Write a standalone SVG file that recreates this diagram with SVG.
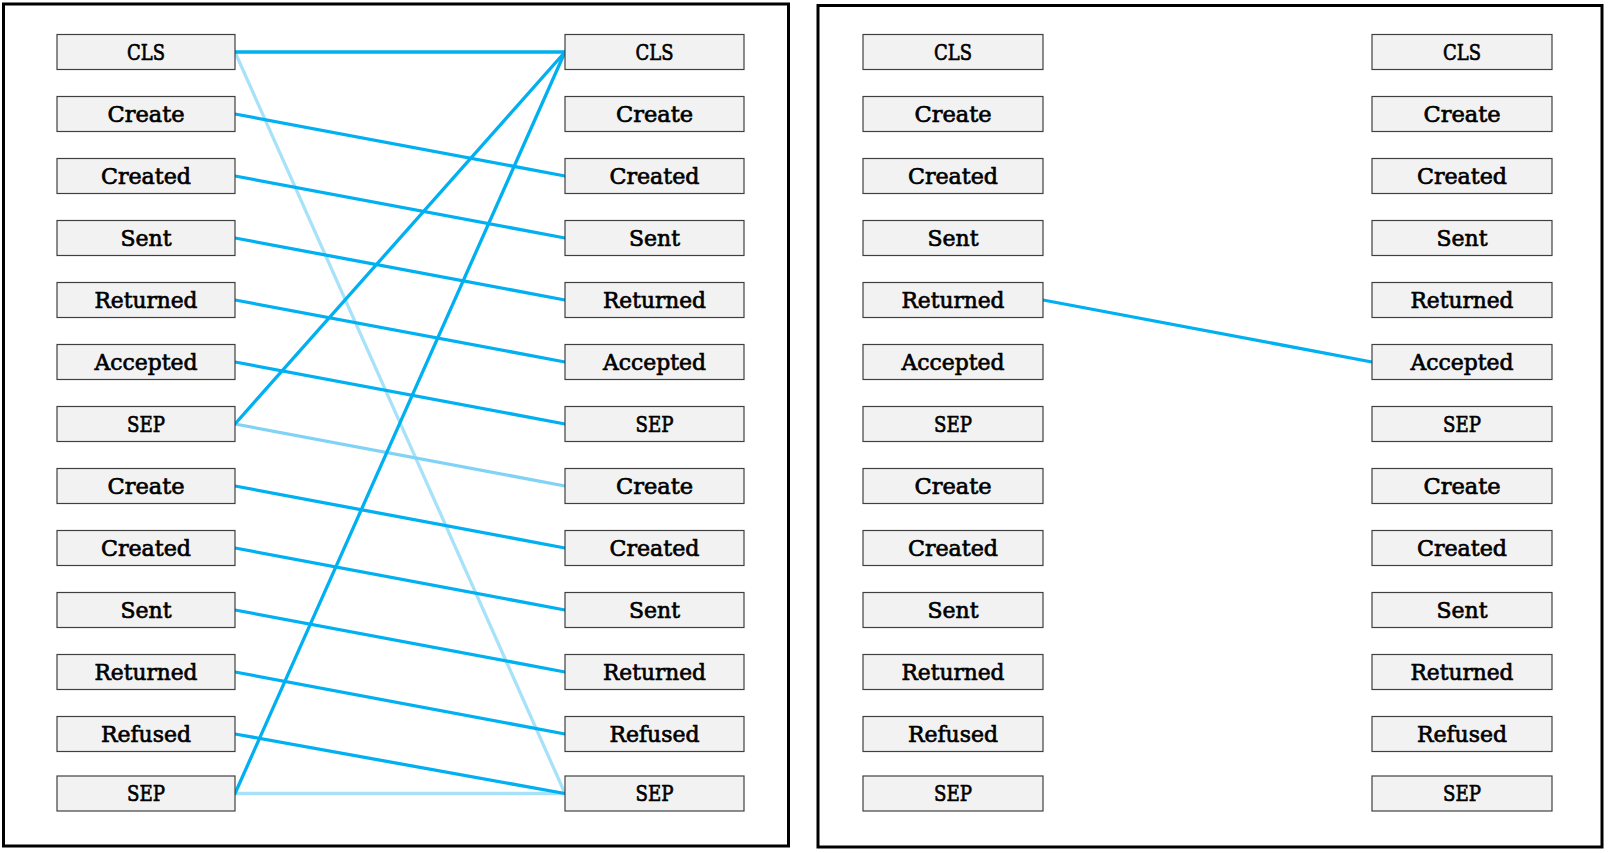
<svg xmlns="http://www.w3.org/2000/svg" width="1608" height="853" viewBox="0 0 1608 853">
<style>
.frame{fill:#fff;stroke:#000;stroke-width:3}
.box{fill:#F2F2F2;stroke:#404040;stroke-width:1.2}
.lbl{font-family:"DejaVu Serif","Liberation Serif",serif;font-size:23px;fill:#000;stroke:#000;stroke-width:0.7;text-anchor:middle}
.c{stroke:#00B0F0;stroke-width:3.3;stroke-linecap:round;fill:none}
.p1{stroke:#A8E2F8;stroke-width:3.3;stroke-linecap:round;fill:none}
.p2{stroke:#80D3F5;stroke-width:3.3;stroke-linecap:round;fill:none}
</style>
<rect class="frame" x="3.5" y="4" width="785" height="842"/>
<rect class="frame" x="818" y="5.5" width="784" height="841.5"/>
<g id="connectors">
<line class="p1" x1="235" y1="52" x2="565" y2="793.5"/>
<line class="p2" x1="235" y1="424" x2="565" y2="486"/>
<line class="p1" x1="235" y1="793.5" x2="565" y2="793.5"/>
<line class="c" x1="235" y1="52" x2="565" y2="52"/>
<line class="c" x1="235" y1="114" x2="565" y2="176"/>
<line class="c" x1="235" y1="176" x2="565" y2="238"/>
<line class="c" x1="235" y1="238" x2="565" y2="300"/>
<line class="c" x1="235" y1="300" x2="565" y2="362"/>
<line class="c" x1="235" y1="362" x2="565" y2="424"/>
<line class="c" x1="235" y1="424" x2="565" y2="52"/>
<line class="c" x1="235" y1="486" x2="565" y2="548"/>
<line class="c" x1="235" y1="548" x2="565" y2="610"/>
<line class="c" x1="235" y1="610" x2="565" y2="672"/>
<line class="c" x1="235" y1="672" x2="565" y2="734"/>
<line class="c" x1="235" y1="734" x2="565" y2="793.5"/>
<line class="c" x1="235" y1="793.5" x2="565" y2="52"/>
<line class="c" x1="1043" y1="300" x2="1372" y2="362"/>
</g>
<g id="L1-0"><rect class="box" x="57" y="34.5" width="178" height="35"/><text class="lbl" x="146" y="59.5" textLength="38" lengthAdjust="spacingAndGlyphs">CLS</text></g>
<g id="L1-1"><rect class="box" x="57" y="96.5" width="178" height="35"/><text class="lbl" x="146" y="121.5" textLength="77" lengthAdjust="spacingAndGlyphs">Create</text></g>
<g id="L1-2"><rect class="box" x="57" y="158.5" width="178" height="35"/><text class="lbl" x="146" y="183.5" textLength="90" lengthAdjust="spacingAndGlyphs">Created</text></g>
<g id="L1-3"><rect class="box" x="57" y="220.5" width="178" height="35"/><text class="lbl" x="146" y="245.5" textLength="51" lengthAdjust="spacingAndGlyphs">Sent</text></g>
<g id="L1-4"><rect class="box" x="57" y="282.5" width="178" height="35"/><text class="lbl" x="146" y="307.5" textLength="103" lengthAdjust="spacingAndGlyphs">Returned</text></g>
<g id="L1-5"><rect class="box" x="57" y="344.5" width="178" height="35"/><text class="lbl" x="146" y="369.5" textLength="103" lengthAdjust="spacingAndGlyphs">Accepted</text></g>
<g id="L1-6"><rect class="box" x="57" y="406.5" width="178" height="35"/><text class="lbl" x="146" y="431.5" textLength="38" lengthAdjust="spacingAndGlyphs">SEP</text></g>
<g id="L1-7"><rect class="box" x="57" y="468.5" width="178" height="35"/><text class="lbl" x="146" y="493.5" textLength="77" lengthAdjust="spacingAndGlyphs">Create</text></g>
<g id="L1-8"><rect class="box" x="57" y="530.5" width="178" height="35"/><text class="lbl" x="146" y="555.5" textLength="90" lengthAdjust="spacingAndGlyphs">Created</text></g>
<g id="L1-9"><rect class="box" x="57" y="592.5" width="178" height="35"/><text class="lbl" x="146" y="617.5" textLength="51" lengthAdjust="spacingAndGlyphs">Sent</text></g>
<g id="L1-10"><rect class="box" x="57" y="654.5" width="178" height="35"/><text class="lbl" x="146" y="679.5" textLength="103" lengthAdjust="spacingAndGlyphs">Returned</text></g>
<g id="L1-11"><rect class="box" x="57" y="716.5" width="178" height="35"/><text class="lbl" x="146" y="741.5" textLength="90" lengthAdjust="spacingAndGlyphs">Refused</text></g>
<g id="L1-12"><rect class="box" x="57" y="776" width="178" height="35"/><text class="lbl" x="146" y="801" textLength="38" lengthAdjust="spacingAndGlyphs">SEP</text></g>
<g id="R1-0"><rect class="box" x="565" y="34.5" width="179" height="35"/><text class="lbl" x="654.5" y="59.5" textLength="38" lengthAdjust="spacingAndGlyphs">CLS</text></g>
<g id="R1-1"><rect class="box" x="565" y="96.5" width="179" height="35"/><text class="lbl" x="654.5" y="121.5" textLength="77" lengthAdjust="spacingAndGlyphs">Create</text></g>
<g id="R1-2"><rect class="box" x="565" y="158.5" width="179" height="35"/><text class="lbl" x="654.5" y="183.5" textLength="90" lengthAdjust="spacingAndGlyphs">Created</text></g>
<g id="R1-3"><rect class="box" x="565" y="220.5" width="179" height="35"/><text class="lbl" x="654.5" y="245.5" textLength="51" lengthAdjust="spacingAndGlyphs">Sent</text></g>
<g id="R1-4"><rect class="box" x="565" y="282.5" width="179" height="35"/><text class="lbl" x="654.5" y="307.5" textLength="103" lengthAdjust="spacingAndGlyphs">Returned</text></g>
<g id="R1-5"><rect class="box" x="565" y="344.5" width="179" height="35"/><text class="lbl" x="654.5" y="369.5" textLength="103" lengthAdjust="spacingAndGlyphs">Accepted</text></g>
<g id="R1-6"><rect class="box" x="565" y="406.5" width="179" height="35"/><text class="lbl" x="654.5" y="431.5" textLength="38" lengthAdjust="spacingAndGlyphs">SEP</text></g>
<g id="R1-7"><rect class="box" x="565" y="468.5" width="179" height="35"/><text class="lbl" x="654.5" y="493.5" textLength="77" lengthAdjust="spacingAndGlyphs">Create</text></g>
<g id="R1-8"><rect class="box" x="565" y="530.5" width="179" height="35"/><text class="lbl" x="654.5" y="555.5" textLength="90" lengthAdjust="spacingAndGlyphs">Created</text></g>
<g id="R1-9"><rect class="box" x="565" y="592.5" width="179" height="35"/><text class="lbl" x="654.5" y="617.5" textLength="51" lengthAdjust="spacingAndGlyphs">Sent</text></g>
<g id="R1-10"><rect class="box" x="565" y="654.5" width="179" height="35"/><text class="lbl" x="654.5" y="679.5" textLength="103" lengthAdjust="spacingAndGlyphs">Returned</text></g>
<g id="R1-11"><rect class="box" x="565" y="716.5" width="179" height="35"/><text class="lbl" x="654.5" y="741.5" textLength="90" lengthAdjust="spacingAndGlyphs">Refused</text></g>
<g id="R1-12"><rect class="box" x="565" y="776" width="179" height="35"/><text class="lbl" x="654.5" y="801" textLength="38" lengthAdjust="spacingAndGlyphs">SEP</text></g>
<g id="L2-0"><rect class="box" x="863" y="34.5" width="180" height="35"/><text class="lbl" x="953" y="59.5" textLength="38" lengthAdjust="spacingAndGlyphs">CLS</text></g>
<g id="L2-1"><rect class="box" x="863" y="96.5" width="180" height="35"/><text class="lbl" x="953" y="121.5" textLength="77" lengthAdjust="spacingAndGlyphs">Create</text></g>
<g id="L2-2"><rect class="box" x="863" y="158.5" width="180" height="35"/><text class="lbl" x="953" y="183.5" textLength="90" lengthAdjust="spacingAndGlyphs">Created</text></g>
<g id="L2-3"><rect class="box" x="863" y="220.5" width="180" height="35"/><text class="lbl" x="953" y="245.5" textLength="51" lengthAdjust="spacingAndGlyphs">Sent</text></g>
<g id="L2-4"><rect class="box" x="863" y="282.5" width="180" height="35"/><text class="lbl" x="953" y="307.5" textLength="103" lengthAdjust="spacingAndGlyphs">Returned</text></g>
<g id="L2-5"><rect class="box" x="863" y="344.5" width="180" height="35"/><text class="lbl" x="953" y="369.5" textLength="103" lengthAdjust="spacingAndGlyphs">Accepted</text></g>
<g id="L2-6"><rect class="box" x="863" y="406.5" width="180" height="35"/><text class="lbl" x="953" y="431.5" textLength="38" lengthAdjust="spacingAndGlyphs">SEP</text></g>
<g id="L2-7"><rect class="box" x="863" y="468.5" width="180" height="35"/><text class="lbl" x="953" y="493.5" textLength="77" lengthAdjust="spacingAndGlyphs">Create</text></g>
<g id="L2-8"><rect class="box" x="863" y="530.5" width="180" height="35"/><text class="lbl" x="953" y="555.5" textLength="90" lengthAdjust="spacingAndGlyphs">Created</text></g>
<g id="L2-9"><rect class="box" x="863" y="592.5" width="180" height="35"/><text class="lbl" x="953" y="617.5" textLength="51" lengthAdjust="spacingAndGlyphs">Sent</text></g>
<g id="L2-10"><rect class="box" x="863" y="654.5" width="180" height="35"/><text class="lbl" x="953" y="679.5" textLength="103" lengthAdjust="spacingAndGlyphs">Returned</text></g>
<g id="L2-11"><rect class="box" x="863" y="716.5" width="180" height="35"/><text class="lbl" x="953" y="741.5" textLength="90" lengthAdjust="spacingAndGlyphs">Refused</text></g>
<g id="L2-12"><rect class="box" x="863" y="776" width="180" height="35"/><text class="lbl" x="953" y="801" textLength="38" lengthAdjust="spacingAndGlyphs">SEP</text></g>
<g id="R2-0"><rect class="box" x="1372" y="34.5" width="180" height="35"/><text class="lbl" x="1462" y="59.5" textLength="38" lengthAdjust="spacingAndGlyphs">CLS</text></g>
<g id="R2-1"><rect class="box" x="1372" y="96.5" width="180" height="35"/><text class="lbl" x="1462" y="121.5" textLength="77" lengthAdjust="spacingAndGlyphs">Create</text></g>
<g id="R2-2"><rect class="box" x="1372" y="158.5" width="180" height="35"/><text class="lbl" x="1462" y="183.5" textLength="90" lengthAdjust="spacingAndGlyphs">Created</text></g>
<g id="R2-3"><rect class="box" x="1372" y="220.5" width="180" height="35"/><text class="lbl" x="1462" y="245.5" textLength="51" lengthAdjust="spacingAndGlyphs">Sent</text></g>
<g id="R2-4"><rect class="box" x="1372" y="282.5" width="180" height="35"/><text class="lbl" x="1462" y="307.5" textLength="103" lengthAdjust="spacingAndGlyphs">Returned</text></g>
<g id="R2-5"><rect class="box" x="1372" y="344.5" width="180" height="35"/><text class="lbl" x="1462" y="369.5" textLength="103" lengthAdjust="spacingAndGlyphs">Accepted</text></g>
<g id="R2-6"><rect class="box" x="1372" y="406.5" width="180" height="35"/><text class="lbl" x="1462" y="431.5" textLength="38" lengthAdjust="spacingAndGlyphs">SEP</text></g>
<g id="R2-7"><rect class="box" x="1372" y="468.5" width="180" height="35"/><text class="lbl" x="1462" y="493.5" textLength="77" lengthAdjust="spacingAndGlyphs">Create</text></g>
<g id="R2-8"><rect class="box" x="1372" y="530.5" width="180" height="35"/><text class="lbl" x="1462" y="555.5" textLength="90" lengthAdjust="spacingAndGlyphs">Created</text></g>
<g id="R2-9"><rect class="box" x="1372" y="592.5" width="180" height="35"/><text class="lbl" x="1462" y="617.5" textLength="51" lengthAdjust="spacingAndGlyphs">Sent</text></g>
<g id="R2-10"><rect class="box" x="1372" y="654.5" width="180" height="35"/><text class="lbl" x="1462" y="679.5" textLength="103" lengthAdjust="spacingAndGlyphs">Returned</text></g>
<g id="R2-11"><rect class="box" x="1372" y="716.5" width="180" height="35"/><text class="lbl" x="1462" y="741.5" textLength="90" lengthAdjust="spacingAndGlyphs">Refused</text></g>
<g id="R2-12"><rect class="box" x="1372" y="776" width="180" height="35"/><text class="lbl" x="1462" y="801" textLength="38" lengthAdjust="spacingAndGlyphs">SEP</text></g>
</svg>
